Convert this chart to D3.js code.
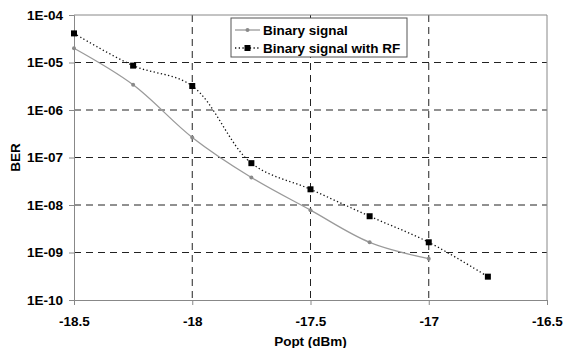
<!DOCTYPE html>
<html>
<head>
<meta charset="utf-8">
<script src="https://cdn.jsdelivr.net/npm/d3@7"></script>
<style>
  body { margin: 0; background: #fff; }
  svg { display: block; font-family: "Liberation Sans", Arial, sans-serif; }
  .axis text { font-size: 13.5px; font-weight: bold; fill: #000; }
</style>
</head>
<body>
<svg id="chart" width="565" height="348"></svg>
<script>
var popt = [-18.5, -18.25, -18, -17.75, -17.5, -17.25, -17];
var berBinary = [2.0e-5, 3.4e-6, 2.65e-7, 3.8e-8, 7.8e-9, 1.64e-9, 7.4e-10];
var poptRF = [-18.5, -18.25, -18, -17.75, -17.5, -17.25, -17, -16.75];
var berRF = [4.1e-5, 8.6e-6, 3.2e-6, 7.6e-8, 2.14e-8, 5.8e-9, 1.64e-9, 3.1e-10];
var xTicks = [-18.5, -18, -17.5, -17, -16.5];
var yTicks = [1e-4, 1e-5, 1e-6, 1e-7, 1e-8, 1e-9, 1e-10];
var seriesNames = ['Binary signal', 'Binary signal with RF'];

(function(){
    'use strict';

    var svg = d3.select('#chart'),
        pLeft = 74, pRight = 547, pTop = 15, pBottom = 300;

    var x = d3.scaleLinear().domain([-18.5, -16.5]).range([pLeft, pRight]);
    var y = d3.scaleLog().domain([1e-10, 1e-4]).range([pBottom, pTop]);

    var fmt = function( v ){
        var e = Math.round( Math.log10(v) );
        return '1E-' + ('0' + (-e)).slice(-2);
    };

    // grid
    svg.append('g').selectAll('line')
        .data(yTicks.filter(function(d){ return d < 1e-4 && d > 1e-10; }))
        .enter().append('line')
        .attr('x1', pLeft).attr('x2', pRight)
        .attr('y1', function(d){ return y(d); }).attr('y2', function(d){ return y(d); })
        .attr('stroke', '#222').attr('stroke-dasharray', '7,5');

    svg.append('g').selectAll('line')
        .data(xTicks.filter(function(d){ return d > -18.5 && d < -16.5; }))
        .enter().append('line')
        .attr('y1', pTop).attr('y2', pBottom)
        .attr('x1', function(d){ return x(d); }).attr('x2', function(d){ return x(d); })
        .attr('stroke', '#222').attr('stroke-dasharray', '7,5');

    // frame (top/right)
    svg.append('path')
        .attr('d', 'M' + pLeft + ',' + pTop + 'H' + pRight + 'V' + pBottom)
        .attr('fill', 'none').attr('stroke', '#888');

    // axes
    svg.append('g').attr('class', 'axis')
        .attr('transform', 'translate(' + pLeft + ',0)')
        .call(d3.axisLeft(y).tickValues(yTicks).tickFormat(fmt).tickSizeOuter(0).tickSize(5).tickPadding(6));
    svg.append('g').attr('class', 'axis')
        .attr('transform', 'translate(0,' + pBottom + ')')
        .call(d3.axisBottom(x).tickValues(xTicks).tickFormat(function(d){ return String(d); })
            .tickSizeOuter(0).tickSize(5).tickPadding(11));
    svg.selectAll('.axis path, .axis line').attr('stroke', '#888');

    // axis titles
    svg.append('text')
        .attr('transform', 'translate(20,' + ((pTop + pBottom) / 2) + ') rotate(-90)')
        .attr('text-anchor', 'middle')
        .style('font-size', '13.5px').style('font-weight', 'bold')
        .text('BER');
    svg.append('text')
        .attr('x', (pLeft + pRight) / 2).attr('y', 346)
        .attr('text-anchor', 'middle')
        .style('font-size', '13.5px').style('font-weight', 'bold')
        .text('Popt (dBm)');

    // series
    var line = d3.line().curve(d3.curveCatmullRom.alpha(0.5))
        .x(function(d){ return x(d[0]); }).y(function(d){ return y(d[1]); });

    var ptsBinary = d3.zip(popt, berBinary),
        ptsRF = d3.zip(poptRF, berRF);

    svg.append('path').attr('d', line(ptsBinary))
        .attr('fill', 'none').attr('stroke', '#9a9a9a').attr('stroke-width', 1.3);
    svg.append('path').attr('d', line(ptsRF))
        .attr('fill', 'none').attr('stroke', '#111').attr('stroke-width', 1.3)
        .attr('stroke-dasharray', '1.3,2.4');

    svg.append('g').selectAll('circle').data(ptsBinary).enter().append('circle')
        .attr('cx', function(d){ return x(d[0]); }).attr('cy', function(d){ return y(d[1]); })
        .attr('r', 2).attr('fill', '#8a8a8a');
    svg.append('g').selectAll('rect').data(ptsRF).enter().append('rect')
        .attr('x', function(d){ return x(d[0]) - 3; }).attr('y', function(d){ return y(d[1]) - 3; })
        .attr('width', 6).attr('height', 6).attr('fill', '#000');

    // legend
    var lg = svg.append('g').attr('transform', 'translate(231,18)');
    lg.append('rect').attr('width', 176).attr('height', 39)
        .attr('fill', '#fff').attr('stroke', '#555');
    var items = lg.selectAll('g.item').data(seriesNames).enter().append('g')
        .attr('transform', function(d, i){ return 'translate(0,' + (12 + i * 18) + ')'; });
    items.append('line').attr('x1', 4).attr('x2', 29).attr('y1', 0).attr('y2', 0)
        .attr('stroke', function(d, i){ return i ? '#111' : '#9a9a9a'; })
        .attr('stroke-width', 1.3)
        .attr('stroke-dasharray', function(d, i){ return i ? '1.3,2.4' : null; });
    items.filter(function(d, i){ return i === 0; }).append('circle')
        .attr('cx', 16.5).attr('r', 2).attr('fill', '#8a8a8a');
    items.filter(function(d, i){ return i === 1; }).append('rect')
        .attr('x', 13.5).attr('y', -3).attr('width', 6).attr('height', 6).attr('fill', '#000');
    items.append('text').attr('x', 32).attr('dy', '0.35em')
        .style('font-size', '13.5px').style('font-weight', 'bold')
        .text(function(d){ return d; });
})();
</script>
</body>
</html>
